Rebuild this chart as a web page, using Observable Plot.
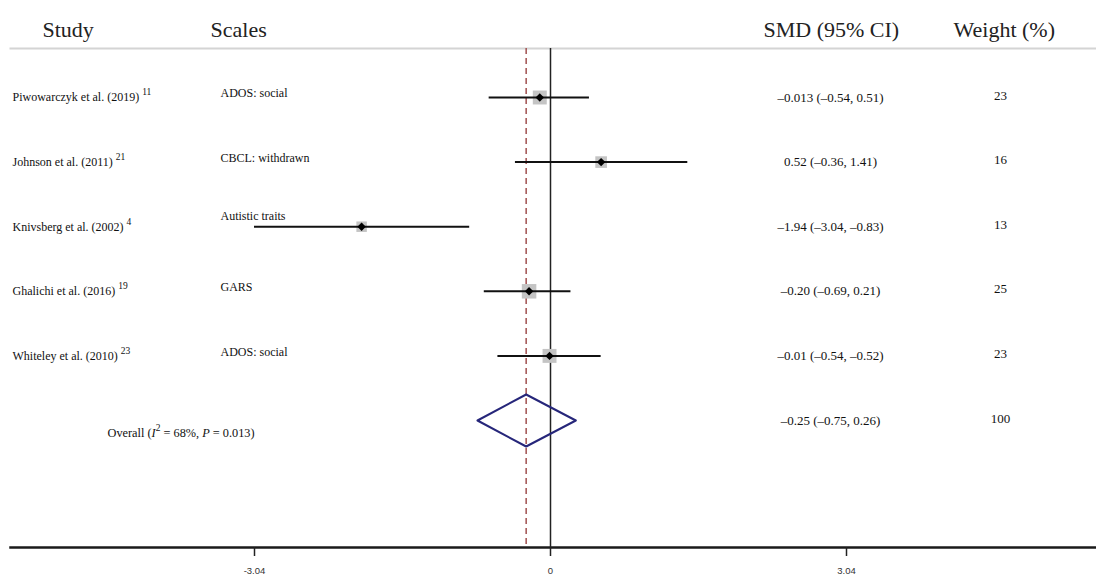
<!DOCTYPE html>
<html>
<head>
<meta charset="utf-8">
<script src="https://cdn.jsdelivr.net/npm/d3@7"></script>
<script src="https://cdn.jsdelivr.net/npm/@observablehq/plot@0.6"></script>
<style>
  html, body { margin: 0; padding: 0; background: #fff; }
  #chart svg { display: block; }
</style>
</head>
<body>
<div id="chart"></div>
<script>
// ---- data ----
const studies = ["Piwowarczyk et al. (2019)", "Johnson et al. (2011)", "Knivsberg et al. (2002)", "Ghalichi et al. (2016)", "Whiteley et al. (2010)"];
const refs = ["11", "21", "4", "19", "23"];
const scaleNames = ["ADOS: social", "CBCL: withdrawn", "Autistic traits", "GARS", "ADOS: social"];
const smd = [-0.11, 0.52, -1.94, -0.22, -0.01];
const lower = [-0.63, -0.36, -3.04, -0.68, -0.54];
const upper = [0.40, 1.41, -0.83, 0.21, 0.52];
const weights = [23, 16, 13, 25, 23];
const ciLabels = ["\u20130.013 (\u20130.54, 0.51)", "0.52 (\u20130.36, 1.41)", "\u20131.94 (\u20133.04, \u20130.83)", "\u20130.20 (\u20130.69, 0.21)", "\u20130.01 (\u20130.54, \u20130.52)"];
const weightLabels = ["23", "16", "13", "25", "23"];
const overallSmd = -0.25, overallLower = -0.75, overallUpper = 0.26;
const overallCi = "\u20130.25 (\u20130.75, 0.26)";
const overallWeight = "100";
const overallStat = {I2: "68%", P: "0.013"};
const headers = ["Study", "Scales", "SMD (95% CI)", "Weight (%)"];
const tickValues = [-3.04, 0, 3.04];

// ---- layout ----
const W = 1096, H = 577;
const rowTop = 97, rowStep = 64.6;
const rows = studies.map((s, i) => ({
  i, study: s, ref: refs[i], scale: scaleNames[i], smd: smd[i], lo: lower[i], hi: upper[i],
  w: weights[i], ci: ciLabels[i], wl: weightLabels[i]
}));
const oRow = studies.length;
const dh = 26 / rowStep;
const diamond = [
  {x: overallLower, y: oRow}, {x: overallSmd, y: oRow - dh},
  {x: overallUpper, y: oRow}, {x: overallSmd, y: oRow + dh}
];
const headerDx = [32, 200, 753, 943];
const serif = "'Liberation Serif', 'Times New Roman', serif";
const fsLabel = 12, fsCi = 13;

const marks = [
  Plot.frame({anchor: "top", stroke: "#d4d4d4", strokeWidth: 2}),
  Plot.frame({anchor: "bottom", stroke: "#1a1a1a", strokeWidth: 2.5}),
  Plot.ruleX([overallSmd], {stroke: "#a0504f", strokeWidth: 1.5, strokeDasharray: "6,4"}),
  Plot.ruleX([0], {stroke: "#222", strokeWidth: 1.5}),
  Plot.dot(rows, {x: "smd", y: "i", r: "w", symbol: "square", fill: "#c4c4c4", stroke: null}),
  Plot.ruleY(rows, {y: "i", x1: "lo", x2: "hi", stroke: "#111", strokeWidth: 2}),
  Plot.dot(rows, {x: "smd", y: "i", symbol: "diamond2", r: 3.8, fill: "#000", stroke: null}),
  Plot.line(diamond, {x: "x", y: "y", curve: "linear-closed", stroke: "#26267a", strokeWidth: 2, fill: "none"}),
  // row texts
  Plot.text(rows, {y: "i", text: "study", frameAnchor: "left", textAnchor: "start", dx: 2, fontSize: fsLabel, fill: "#111"}),
  Plot.text(rows.filter(d => d.i !== 2), {y: "i", text: "scale", frameAnchor: "left", textAnchor: "start", dx: 210, dy: -4, fontSize: fsLabel, fill: "#111"}),
  Plot.text(rows.filter(d => d.i === 2), {y: "i", text: "scale", frameAnchor: "left", textAnchor: "start", dx: 210, dy: -11, fontSize: fsLabel, fill: "#111"}),
  Plot.text(rows, {y: "i", text: "ci", frameAnchor: "left", textAnchor: "middle", dx: 820, fontSize: fsCi, fill: "#111"}),
  Plot.text(rows, {y: "i", text: "wl", frameAnchor: "left", textAnchor: "middle", dx: 990, dy: -2, fontSize: fsCi, fill: "#111"}),
  Plot.text([oRow], {y: d => d, text: () => "Overall", frameAnchor: "left", textAnchor: "start", dx: 97, dy: 13, fontSize: 12.3, fill: "#111"}),
  Plot.text([oRow], {y: d => d, text: () => overallCi, frameAnchor: "left", textAnchor: "middle", dx: 820, fontSize: fsCi, fill: "#111"}),
  Plot.text([oRow], {y: d => d, text: () => overallWeight, frameAnchor: "left", textAnchor: "middle", dx: 990, dy: -2, fontSize: fsCi, fill: "#111"}),
  ...headers.map((h, k) => Plot.text([h], {y: () => -1, text: d => d, frameAnchor: "left", textAnchor: "start", dx: headerDx[k], dy: -3, fontSize: 22, fill: "#222"})),
  Plot.axisX({ticks: tickValues, tickSize: 9, tickPadding: 11, strokeWidth: 1.5, stroke: "#222",
    tickFormat: d => d === 0 ? "0" : d.toFixed(2), fontSize: 9.5, fontFamily: "'Liberation Sans', Arial, sans-serif", fill: "#333", label: null})
];

const svg = Plot.plot({
  width: W, height: H,
  marginTop: 48, marginBottom: 30, marginLeft: 10, marginRight: 0,
  style: {fontFamily: serif, fontSize: "13px", background: "#fff", color: "#111"},
  x: {domain: [-3.04, 3.04], range: [254, 846]},
  y: {domain: [0, studies.length], range: [rowTop, rowTop + rowStep * studies.length], axis: null},
  r: {type: "sqrt", domain: [0, 25], range: [0, 8.2]},
  marks
});

// superscripts & italics
d3.select(svg).selectAll("text").each(function() {
  const el = d3.select(this);
  const t = this.textContent;
  const k = studies.indexOf(t);
  if (k >= 0 && this.childElementCount === 0) {
    el.append("tspan").attr("dx", 3).attr("dy", -6).attr("font-size", 9.5).text(refs[k]);
  } else if (t === "Overall") {
    el.text(null);
    el.append("tspan").text("Overall (");
    el.append("tspan").attr("font-style", "italic").text("I");
    el.append("tspan").attr("dy", -6).attr("font-size", 9.5).text("2");
    el.append("tspan").attr("dy", 6).text(" = " + overallStat.I2 + ", ");
    el.append("tspan").attr("font-style", "italic").text("P");
    el.append("tspan").text(" = " + overallStat.P + ")");
  }
});

document.getElementById("chart").appendChild(svg);
</script>
</body>
</html>
